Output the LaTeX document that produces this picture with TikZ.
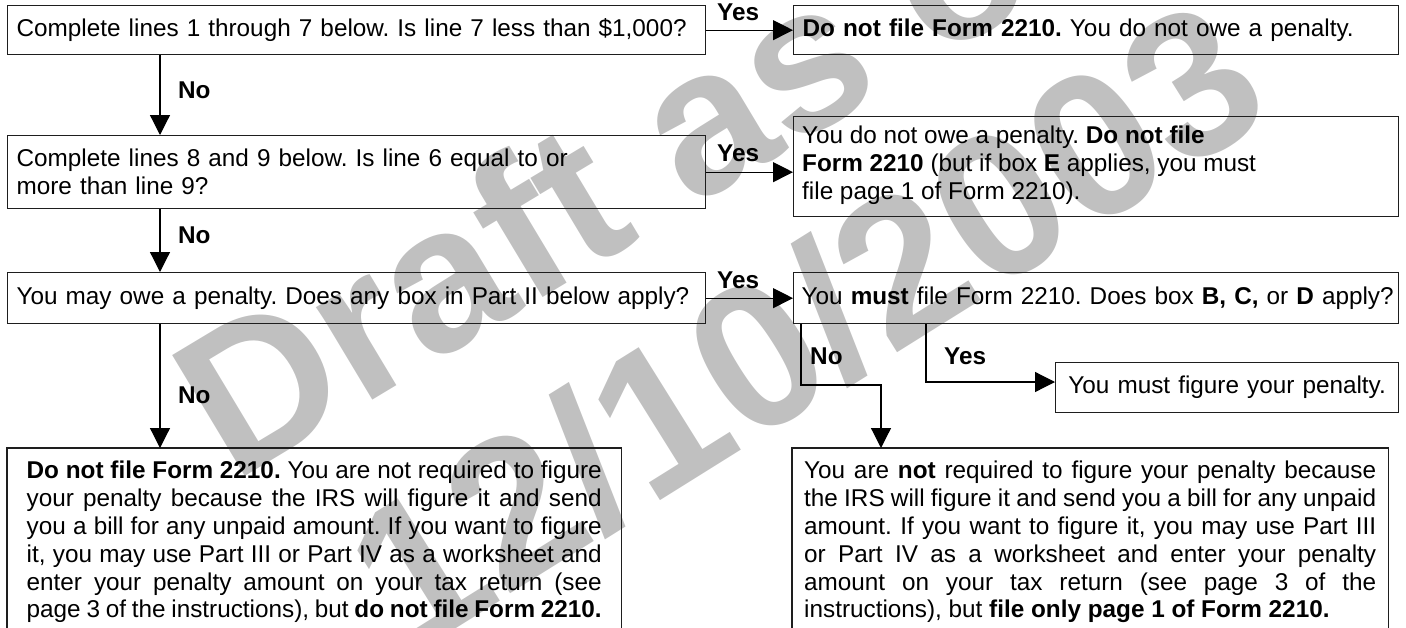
\documentclass[tikz,border=0pt]{standalone}
\usepackage{fontspec}
\setmainfont{Liberation Sans}
\newfontfamily\wmfont{Liberation Sans}
\usetikzlibrary{arrows.meta}
\newcommand{\boxfont}{\fontsize{24.3}{27.8}\selectfont\frenchspacing}
\definecolor{wmgray}{RGB}{192,192,192}
\definecolor{framecol}{RGB}{30,30,30}
\begin{document}
\begin{tikzpicture}[x=1pt,y=-1pt,
  fbox/.style={draw=framecol, line width=1.3pt, anchor=north west, inner xsep=9pt, inner ysep=0pt, align=left, font=\boxfont},
  frame/.style={draw=framecol, line width=1.3pt},
  tbox/.style={anchor=north, inner sep=0pt, font=\boxfont, align=justify},
  lbl/.style={font=\boxfont\bfseries, inner sep=0pt, anchor=west},
  arr/.style={line width=1.2pt, -{Triangle[length=20pt,width=20pt]}},
  wm/.style={font=\wmfont\fontsize{205}{215}\selectfont\bfseries, text=wmgray, inner sep=0pt}]
\useasboundingbox (0,0) rectangle (1406,627);
\begin{scope}
\clip (0,0) rectangle (1406,627);
\node[wm, rotate=31] (wm1) at (630,160) {Draft as of};
\node[wm, rotate=32] (wm2) at (805,325) {12/10/2003};
\end{scope}

% left column
\node[fbox, minimum width=698pt, minimum height=49pt, text width=680pt] (l1) at (7,5)
  {\mbox{Complete lines 1 through 7 below. Is line 7 less than \$1,000?}};
\node[fbox, minimum width=698pt, minimum height=73pt, text width=680pt] (l2) at (7,135)
  {Complete lines 8 and 9 below. Is line 6 equal to or\\more than line 9?};
\node[fbox, minimum width=698pt, minimum height=51pt, text width=680pt] (l3) at (7,272)
  {\mbox{You may owe a penalty. Does any box in Part II below apply?}};
\node[anchor=north west, minimum width=614pt, minimum height=185pt, inner sep=0pt] (l4) at (7,448) {};
\draw[frame] (l4.south west) -- (l4.north west) -- (l4.north east) -- (l4.south east);
\node[tbox, text width=575pt] (l4t) at ([yshift=-13pt]l4.north)
  {\parfillskip=0pt \textbf{Do not file Form 2210.} You are not required to figure\linebreak
   your penalty because the IRS will figure it and send\linebreak
   you a bill for any unpaid amount. If you want to figure\linebreak
   it, you may use Part III or Part IV as a worksheet and\linebreak
   enter your penalty amount on your tax return (see\linebreak
   page 3 of the instructions), but \textbf{do not file Form 2210.}};

% right column
\node[fbox, minimum width=605pt, minimum height=49pt, text width=587pt] (r1) at (793,5)
  {\mbox{\textbf{Do not file Form 2210.} You do not owe a penalty.}};
\node[fbox, minimum width=605pt, minimum height=100pt] (r2) at (793,116) {};
\node[anchor=north west, inner sep=0pt, font=\boxfont, align=left] (r2t) at ([xshift=9pt,yshift=-10pt]r2.north west)
  {You do not owe a penalty. \textbf{Do not file}\\\textbf{Form 2210} (but if box \textbf{E} applies, you must\\file page 1 of Form 2210).};
\node[fbox, inner xsep=8pt, minimum width=605pt, minimum height=51pt, text width=589pt] (r3) at (793,272)
  {\mbox{You \textbf{must} file Form 2210. Does box \textbf{B, C,} or \textbf{D} apply?}};
\node[fbox, minimum width=343pt, minimum height=50pt, text width=325pt, align=center] (ry) at (1055,362)
  {You must figure your penalty.};
\node[anchor=north west, minimum width=596pt, minimum height=185pt, inner sep=0pt] (r4) at (792,448) {};
\draw[frame] (r4.south west) -- (r4.north west) -- (r4.north east) -- (r4.south east);
\node[tbox, text width=572pt] (r4t) at ([yshift=-13pt]r4.north)
  {\parfillskip=0pt You are \textbf{not} required to figure your penalty because\linebreak
   the IRS will figure it and send you a bill for any unpaid\linebreak
   amount. If you want to figure it, you may use Part III\linebreak
   or Part IV as a worksheet and enter your penalty\linebreak
   amount on your tax return (see page 3 of the\linebreak
   instructions), but \textbf{file only page 1 of Form 2210.}};

% connectors
\coordinate (cx) at (160,0);
\draw[arr] (l1.east) -- (l1.east -| r1.west);
\draw[arr] (l2.east) -- (l2.east -| r2.west);
\draw[arr] (l3.east) -- (l3.east -| r3.west);
\draw[arr] (l1.south -| cx) -- (l2.north -| cx);
\draw[arr] (l2.south -| cx) -- (l3.north -| cx);
\draw[arr] (l3.south -| cx) -- (l4.north -| cx);
\coordinate (nb1) at (801,385);
\coordinate (nb2) at (881,385);
\coordinate (yb) at (926,382);
\draw[arr] (r3.south -| nb1) -- (nb1) -- (nb2) -- (r4.north -| nb2);
\draw[arr] (r3.south -| yb) -- (yb) -- (yb -| ry.west);

% labels
\node[lbl] (y1) at (717,12) {Yes};
\node[lbl] (y2) at (717,153) {Yes};
\node[lbl] (y3) at (717,280) {Yes};
\node[lbl] (n1) at (178,90) {No};
\node[lbl] (n2) at (178,235) {No};
\node[lbl] (n3) at (178,395) {No};
\node[lbl] (n4) at (810,356) {No};
\node[lbl] (y4) at (944,356) {Yes};
\end{tikzpicture}
\end{document}
